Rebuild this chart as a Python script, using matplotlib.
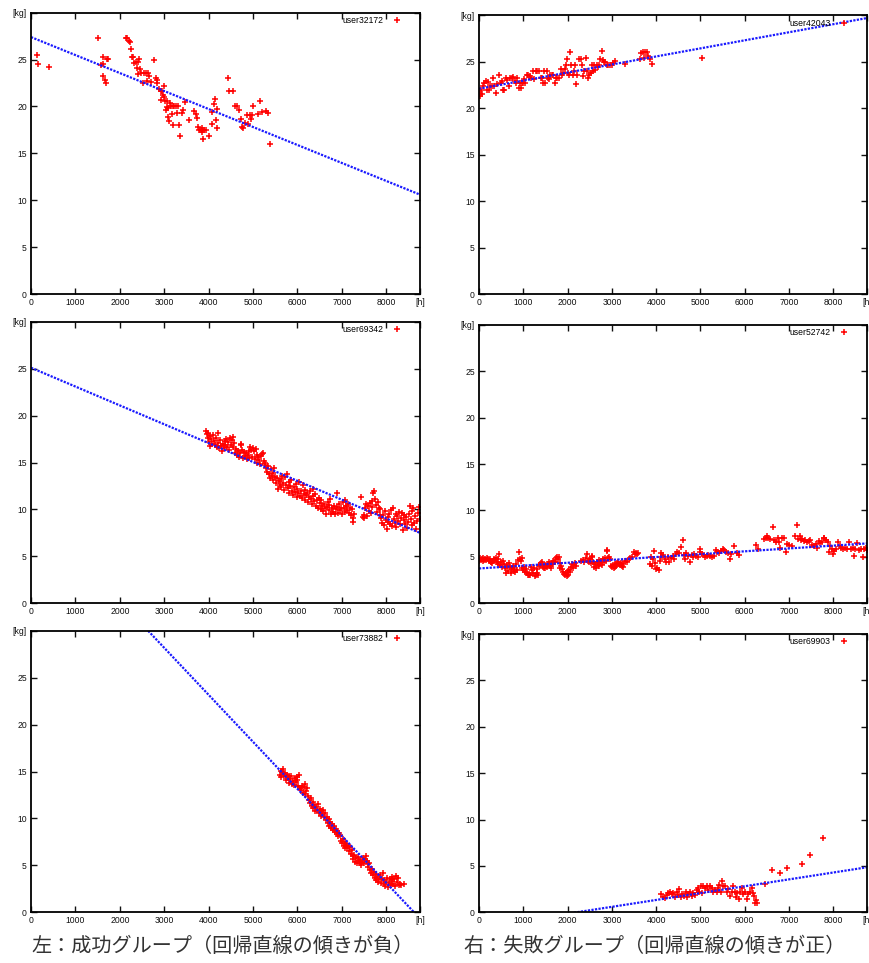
import matplotlib
matplotlib.use('Agg')
import matplotlib.pyplot as plt
import numpy as np

users = ['user32172', 'user42043', 'user69342', 'user52742', 'user73882', 'user69903']
reg_intercept = [27.4, 22.1, 25.1, 3.75, 43.2, -1.63]
reg_slope = [-0.001918, 0.000868, -0.002009, 0.000308, -0.005008, 0.000740]

x_tick_vals = [0, 1000, 2000, 3000, 4000, 5000, 6000, 7000, 8000, 8760]
x_tick_labels = ['0', '1000', '2000', '3000', '4000', '5000', '6000', '7000', '8000', '[h]']
y_tick_vals = [0, 5, 10, 15, 20, 25, 30]
y_tick_labels = ['0', '5', '10', '15', '20', '25', '[kg]']

captions = ['左：成功グループ（回帰直線の傾きが負）', '右：失敗グループ（回帰直線の傾きが正）']

# user32172
p1 = [(128,25.5),(165,24.5),(413,24.2),(1500,27.3),(1568,24.4),(1613,25.3),(1628,24.5),(1628,23.2),
      (1658,22.8),(1680,22.5),(1703,25.1),(1725,25.1),(2138,27.3),(2168,27.3),(2205,27.0),(2228,26.9),
      (2250,26.1),(2273,25.3),(2303,25.3),(2325,24.6),(2355,24.7),(2378,24.1),(2400,24.7),(2415,23.5),
      (2438,25.1),(2453,24.0),(2483,23.6),(2513,22.5),(2543,23.6),(2580,23.6),(2603,22.7),(2640,23.6),
      (2655,23.2),(2693,22.6),(2775,25.0),(2813,23.0),(2828,22.8),(2843,22.5),(2888,21.9),(2925,21.7),
      (2948,21.6),(2933,20.7),(2963,21.2),(2985,22.2),(2993,21.0),(3015,20.6),(3038,19.6),(3053,20.6),
      (3068,19.9),(3075,18.9),(3090,19.8),(3098,18.4),(3128,20.4),(3143,20.1),(3173,19.2),(3188,18.0),
      (3203,20.1),(3225,20.1),(3255,20.1),(3293,19.3),(3315,20.1),(3338,18.0),(3353,16.8),(3390,19.3),
      (3428,19.6),(3465,20.5),(3563,18.6),(3676,19.5),(3706,19.2),(3743,18.8),(3766,17.8),(3788,17.5),
      (3818,17.5),(3841,17.7),(3856,17.3),(3863,16.5),(3893,17.5),(3938,17.5),(4013,16.8),(4073,18.1),
      (4081,19.4),(4118,20.3),(4141,20.8),(4163,18.6),(4178,19.7),(4186,17.7),(4433,23.0),(4463,21.7),
      (4553,21.7),(4591,20.0),(4643,20.1),(4681,19.6),(4718,18.7),(4756,17.8),(4778,17.7),(4816,18.2),
      (4853,19.1),(4891,18.1),(4928,19.1),(4943,18.7),(4981,19.1),(5003,20.0),(5116,19.2),(5153,20.6),
      (5191,19.4),(5303,19.5),(5341,19.3),(5386,16.0)]

# user42043
p2 = [(0,21.7),(0,21.5),(23,21.3),(38,22.0),(75,21.5),(98,22.4),(120,22.7),(150,22.9),(173,22.0),
      (196,22.8),(233,22.0),(248,22.4),(286,22.4),(324,23.2),(346,22.4),(384,21.6),(414,22.6),(459,23.6),
      (489,22.7),(527,22.9),(549,22.0),(572,22.0),(609,23.2),(640,23.0),(670,22.4),(700,23.2),(737,23.2),
      (775,23.4),(805,22.9),(835,22.7),(865,23.2),(895,22.2),(926,22.7),(948,22.2),(971,22.7),(1001,22.7),
      (1023,23.1),(1046,22.7),(1076,23.6),(1114,23.6),(1151,23.5),(1181,23.3),(1219,24.0),(1242,23.1),
      (1279,24.0),(1317,24.0),(1355,24.0),(1392,23.2),(1415,23.2),(1445,22.7),(1475,24.0),(1498,22.7),
      (1528,24.0),(1550,23.2),(1573,23.1),(1603,23.6),(1640,23.6),(1678,23.6),(1708,22.7),(1738,23.2),
      (1768,23.2),(1798,23.2),(1844,24.2),(1874,23.6),(1904,23.8),(1934,24.2),(1964,24.6),(1987,25.3),
      (2017,23.8),(2039,23.6),(2062,26.0),(2085,24.6),(2115,23.6),(2145,24.0),(2175,24.6),(2198,22.6),
      (2220,23.6),(2265,25.3),(2295,25.3),(2318,24.6),(2355,23.5),(2378,24.0),(2408,25.4),(2431,24.0),
      (2461,23.3),(2491,23.6),(2521,23.8),(2543,24.6),(2566,24.0),(2596,24.6),(2626,24.1),(2656,24.6),
      (2686,24.4),(2716,24.6),(2739,25.3),(2769,26.2),(2792,25.2),(2822,25.0),(2852,25.0),(2882,24.6),
      (2920,24.6),(2957,24.6),(2995,24.6),(3032,24.9),(3070,25.1),(3296,24.8),(3634,25.3),(3664,25.9),
      (3694,26.0),(3724,25.4),(3754,26.0),(3784,26.0),(3822,25.6),(3860,25.3),(3905,24.8),(5041,25.4)]

# user69342
p3 = [(3950,18.4),(3960,18.0),(3975,17.6),(3990,18.1),(4000,17.2),(4020,17.8),(4040,16.8),(4060,17.5),
      (4080,17.0),(4100,17.9),(4120,17.3),(4150,16.9),(4170,17.6),(4190,16.6),(4200,18.1),(4220,17.1),
      (4240,16.5),(4260,17.4),(4280,16.8),(4300,16.2),(4320,17.0),(4340,16.5),(4360,17.3),(4380,16.9),
      (4400,17.5),(4420,16.7),(4440,17.2),(4460,16.3),(4480,17.6),(4500,16.9),(4520,17.4),(4540,17.7),
      (4560,16.6),(4580,17.1),(4600,16.0),(4620,16.4),(4640,15.8),(4660,16.2),(4680,15.6),(4700,16.0),
      (4720,16.9),(4740,17.0),(4760,16.3),(4780,15.5),(4800,16.1),(4820,15.7),(4840,16.0),(4860,15.4),
      (4880,15.8),(4900,16.2),(4920,15.5),(4940,16.6),(4960,16.3),(4980,15.6),(5000,16.5),(5020,16.2),
      (5040,15.4),(5060,16.4),(5080,15.8),(5100,15.0),(5120,15.6),(5140,15.3),(5160,14.8),(5180,15.7),
      (5200,15.9),(5220,16.0),(5240,15.2),(5260,14.7),(5280,14.9),(5300,14.4),(5320,14.0),(5340,14.6),
      (5360,13.8),(5380,13.4),(5400,14.3),(5420,13.6),(5440,13.9),(5460,13.1),(5480,14.4),(5500,13.5),
      (5520,12.8),(5540,13.3),(5560,12.2),(5580,13.0),(5600,12.6),(5620,13.2),(5640,12.4),(5660,13.6),
      (5680,12.8),(5700,12.1),(5720,13.5),(5740,12.6),(5760,13.8),(5780,12.3),(5800,12.9),(5820,11.8),
      (5840,12.5),(5860,13.1),(5880,12.0),(5900,11.5),(5920,12.4),(5940,11.9),(5960,12.7),(5980,11.3),
      (6000,12.2),(6020,11.7),(6040,12.9),(6060,11.4),(6080,12.0),(6100,11.2),(6120,12.6),(6140,11.6),
      (6160,11.0),(6180,12.1),(6200,11.5),(6220,11.8),(6240,10.8),(6260,11.3),(6280,12.0),(6300,11.1),
      (6320,10.6),(6340,11.4),(6360,12.2),(6380,10.9),(6400,11.6),(6420,10.4),(6440,11.0),(6460,10.2),
      (6480,11.2),(6500,10.7),(6520,10.0),(6540,11.0),(6560,10.4),(6580,9.8),(6600,10.6),(6620,10.1),
      (6640,9.5),(6660,10.3),(6680,10.8),(6700,9.9),(6720,10.5),(6740,11.1),(6760,9.5),(6780,10.2),
      (6800,9.7),(6820,10.4),(6840,9.5),(6860,10.0),(6880,11.7),(6900,10.3),(6920,9.6),(6940,10.6),
      (6960,9.9),(6980,10.2),(7000,9.5),(7020,10.8),(7040,10.1),(7060,11.0),(7080,9.7),(7100,10.4),
      (7120,9.9),(7140,10.6),(7160,9.6),(7180,10.2),(7200,9.4),(7220,10.0),(7240,9.1),(7260,8.7),
      (7280,9.5),(7440,11.3),(7470,9.2),(7490,9.4),(7510,9.1),(7530,10.2),(7550,10.6),(7570,9.3),
      (7590,10.4),(7610,9.8),(7630,10.7),(7650,9.6),(7670,10.9),(7690,10.3),(7710,11.8),(7730,12.0),
      (7750,11.1),(7770,10.5),(7790,9.7),(7810,10.8),(7830,10.2),(7850,9.4),(7870,10.0),(7890,9.1),
      (7910,8.6),(7930,9.4),(7950,8.3),(7970,9.8),(7990,8.9),(8010,7.9),(8030,9.2),(8050,8.7),
      (8070,9.5),(8090,8.4),(8110,9.9),(8130,8.2),(8150,10.1),(8170,9.0),(8190,8.6),(8210,9.5),
      (8230,8.1),(8250,9.3),(8270,8.8),(8290,9.7),(8310,8.4),(8330,9.1),(8350,9.6),(8370,7.8),
      (8390,8.9),(8410,9.4),(8430,8.5),(8450,9.2),(8470,8.0),(8490,8.7),(8510,9.5),(8530,10.4),
      (8550,9.0),(8570,8.3),(8590,9.8),(8610,10.1),(8630,8.6),(8650,9.3),(8670,7.9),(8690,8.8),
      (8710,9.6),(8730,10.3),(8750,9.0)]

# user52742
p4 = [(0,4.6),(20,4.9),(40,4.7),(60,4.8),(80,4.6),(100,4.9),(120,4.7),(140,4.8),(160,4.7),(180,4.9),
      (200,4.8),(220,4.6),(240,4.8),(260,4.5),(280,4.4),(300,4.3),(320,4.6),(340,4.8),(360,4.7),(380,4.9),
      (400,4.5),(420,4.2),(440,4.8),(460,5.3),(480,4.1),(500,4.4),(520,3.9),(540,4.6),(560,4.2),(580,3.8),
      (600,3.3),(620,3.9),(640,4.1),(660,3.5),(680,4.3),(700,3.9),(720,3.3),(740,3.7),(760,4.0),(780,3.5),
      (800,3.8),(820,3.4),(840,4.2),(860,3.6),(880,4.7),(900,5.5),(920,4.8),(940,4.6),(960,4.9),(980,3.8),
      (1000,3.6),(1020,3.9),(1040,3.4),(1060,3.7),(1080,3.3),(1100,3.1),(1120,3.0),(1140,3.2),(1160,3.0),
      (1180,3.9),(1200,3.6),(1220,3.3),(1240,3.8),(1260,2.9),(1280,3.0),(1300,3.7),(1320,3.3),(1340,3.1),
      (1360,4.1),(1380,4.0),(1400,4.3),(1420,4.5),(1440,3.9),(1460,3.8),(1480,4.1),(1500,3.8),(1520,4.0),
      (1540,3.9),(1560,4.2),(1580,4.4),(1600,4.0),(1620,3.8),(1640,4.3),(1660,4.6),(1680,4.2),(1700,4.4),
      (1720,4.5),(1740,4.9),(1760,5.0),(1780,4.8),(1800,5.0),(1820,4.3),(1840,3.8),(1860,4.0),(1880,3.7),
      (1900,3.4),(1920,3.2),(1940,3.0),(1960,3.3),(1980,2.9),(2000,3.5),(2020,3.1),(2040,3.6),(2060,3.4),
      (2080,3.9),(2100,4.2),(2120,3.8),(2140,4.1),(2160,4.3),(2180,4.0),(2300,4.6),(2340,4.7),(2380,4.5),
      (2420,4.9),(2440,5.3),(2460,4.6),(2480,4.4),(2500,4.8),(2520,4.3),(2540,5.0),(2560,5.1),(2580,4.5),
      (2600,3.9),(2620,4.2),(2640,3.8),(2660,4.5),(2680,4.1),(2700,4.7),(2720,4.0),(2740,4.3),(2760,4.6),
      (2780,4.1),(2800,4.8),(2820,4.4),(2840,4.9),(2860,4.6),(2880,5.7),(2900,5.6),(2920,4.9),(2940,5.0),
      (2960,4.8),(2980,4.0),(3000,3.9),(3020,4.1),(3040,3.8),(3060,4.2),(3080,3.9),(3100,4.0),(3120,4.3),
      (3140,4.4),(3160,4.2),(3180,4.1),(3200,4.3),(3220,4.0),(3240,3.9),(3260,4.2),(3300,4.6),(3340,4.4),
      (3380,4.8),(3420,4.9),(3460,5.0),(3500,5.5),(3520,5.3),(3540,5.4),(3560,5.3),(3600,5.4),(3850,4.2),
      (3880,5.0),(3900,4.0),(3920,4.8),(3950,5.6),(3980,4.3),(4000,3.7),(4020,3.8),(4060,3.6),(4080,4.6),
      (4100,5.4),(4120,5.0),(4160,5.2),(4200,4.8),(4230,4.4),(4260,5.0),(4300,4.5),(4330,4.9),(4370,5.1),
      (4400,4.8),(4440,5.3),(4480,5.5),(4520,5.4),(4550,6.1),(4600,6.8),(4620,5.2),(4650,4.8),(4680,5.4),
      (4720,5.1),(4760,4.4),(4800,5.2),(4830,5.0),(4860,5.3),(4900,5.1),(4940,5.0),(4980,5.9),(5000,5.5),
      (5030,5.3),(5070,5.2),(5100,5.0),(5140,5.1),(5180,5.2),(5220,5.1),(5260,5.0),(5300,5.1),(5340,5.7),
      (5380,5.5),(5420,5.4),(5460,5.6),(5500,5.9),(5540,5.7),(5580,5.5),(5620,5.4),(5660,4.8),(5700,5.3),
      (5760,6.2),(5820,5.4),(5860,5.2),(6260,6.3),(6300,5.8),(6440,6.9),(6480,7.0),(6500,7.3),(6520,7.0),
      (6560,6.9),(6640,8.2),(6660,6.8),(6700,6.6),(6740,7.0),(6780,6.6),(6800,6.0),(6840,7.0),(6880,7.0),
      (6920,5.5),(6960,6.4),(7000,6.3),(7060,6.2),(7140,7.2),(7170,8.4),(7200,6.9),(7240,7.3),(7270,6.8),
      (7300,6.9),(7330,6.7),(7360,6.8),(7400,6.6),(7440,6.7),(7480,6.8),(7520,6.3),(7560,6.2),(7600,6.4),
      (7640,6.0),(7680,6.7),(7700,6.5),(7740,6.6),(7780,7.0),(7800,7.0),(7840,6.8),(7880,6.6),(7900,5.5),
      (7930,6.2),(7960,5.8),(8000,5.3),(8020,5.6),(8060,5.9),(8100,6.6),(8140,6.2),(8180,6.0),(8220,5.9),
      (8260,6.0),(8300,5.9),(8350,6.6),(8400,5.8),(8440,6.0),(8460,5.1),(8500,5.8),(8540,6.5),(8580,5.7),
      (8620,5.9),(8660,5.0),(8700,5.8),(8740,6.0),(8760,5.7)]

# user73882
p5 = [(5600,14.6),(5620,15.1),(5640,14.4),(5660,14.9),(5680,15.3),(5700,14.5),(5720,14.8),(5740,14.1),
      (5760,14.6),(5780,14.3),(5800,14.5),(5820,13.8),(5840,14.2),(5860,14.5),(5880,13.7),(5900,14.0),
      (5920,13.6),(5940,14.3),(5960,13.9),(5980,14.1),(6000,14.4),(6020,13.5),(6040,14.6),(6060,13.2),
      (6080,13.0),(6100,13.5),(6120,12.7),(6140,13.3),(6160,12.6),(6180,13.7),(6200,12.9),(6220,13.2),
      (6240,12.4),(6260,12.0),(6280,11.6),(6300,12.2),(6320,11.3),(6340,11.7),(6360,11.1),(6380,11.4),
      (6400,10.8),(6420,11.2),(6440,10.9),(6460,11.5),(6480,10.6),(6500,11.0),(6520,10.3),(6540,10.8),
      (6560,10.5),(6580,10.9),(6600,10.1),(6620,10.6),(6640,9.8),(6660,10.2),(6680,9.5),(6700,9.9),
      (6720,9.2),(6740,9.6),(6760,9.0),(6780,9.4),(6800,8.8),(6820,9.2),(6840,8.6),(6860,8.9),(6880,8.3),
      (6900,8.7),(6920,8.1),(6940,8.5),(6960,8.2),(6980,7.6),(7000,7.4),(7020,7.8),(7040,7.1),(7060,7.5),
      (7080,6.9),(7100,7.3),(7120,6.8),(7140,7.1),(7160,6.5),(7180,7.0),(7200,6.2),(7220,6.6),(7240,6.0),
      (7260,5.7),(7280,6.1),(7300,5.4),(7320,5.8),(7340,5.3),(7360,5.9),(7380,5.5),(7400,5.2),(7420,5.6),
      (7440,5.0),(7460,5.4),(7480,5.8),(7500,5.3),(7520,5.7),(7540,6.0),(7560,5.5),(7580,5.1),(7600,4.8),
      (7620,5.2),(7640,4.5),(7660,4.2),(7680,4.6),(7700,4.0),(7720,4.3),(7740,3.7),(7760,4.1),(7780,3.4),
      (7800,3.8),(7820,3.2),(7840,3.6),(7860,4.0),(7880,3.1),(7900,3.5),(7920,4.2),(7940,3.0),(7960,3.4),
      (7980,2.8),(8000,3.2),(8020,3.7),(8040,2.7),(8060,3.1),(8080,3.5),(8100,2.9),(8120,3.3),(8140,3.8),
      (8160,3.0),(8180,3.6),(8200,2.8),(8220,3.9),(8240,3.2),(8260,3.7),(8280,2.9),(8300,3.0),(8340,2.9),
      (8400,3.0)]

# user69903
p6 = [(4100,2.0),(4160,1.7),(4200,1.5),(4236,1.9),(4274,2.1),(4310,2.2),(4350,2.0),(4387,2.05),
      (4425,1.7),(4462,2.2),(4500,1.9),(4522,2.5),(4552,1.7),(4590,2.0),(4628,1.8),(4665,2.2),(4688,1.7),
      (4725,2.0),(4763,2.2),(4801,1.8),(4838,2.1),(4877,1.9),(4914,2.4),(4951,2.6),(4974,2.2),(5004,2.8),
      (5034,2.1),(5064,2.8),(5102,2.6),(5139,2.8),(5177,2.4),(5214,2.8),(5252,2.6),(5290,2.2),(5327,2.4),
      (5365,2.2),(5402,2.6),(5425,2.9),(5455,2.2),(5477,3.4),(5515,2.8),(5553,2.8),(5590,2.2),(5628,2.5),
      (5666,1.8),(5703,2.2),(5741,2.8),(5779,2.2),(5801,1.7),(5832,2.05),(5862,1.4),(5892,2.2),(5930,2.6),
      (5967,2.0),(6005,2.2),(6042,1.4),(6080,2.0),(6117,2.2),(6155,2.6),(6178,2.1),(6208,1.8),(6223,1.0),
      (6253,1.3),(6283,1.0),(6456,3.0),(6621,4.6),(6795,4.2),(6960,4.8),(7284,5.2),(7472,6.2),(7773,8.0)]

data = [p1, p2, p3, p4, p5, p6]

W, H = 869, 963
fig = plt.figure(figsize=(W / 100, H / 100), dpi=100)

# axes rectangles in pixels: (left, top, right, bottom)
rects = [(31, 12.7, 420, 294), (479, 15.3, 867, 294),
         (31, 321.7, 420, 603.3), (479, 324.7, 867, 603.3),
         (31, 630.7, 420, 912.3), (479, 634, 867, 912.3)]

for i in range(6):
    l, t, r, b = rects[i]
    ax = fig.add_axes([l / W, 1 - b / H, (r - l) / W, (b - t) / H])
    pts = np.array(data[i], dtype=float)
    ax.plot(pts[:, 0], pts[:, 1], linestyle='none', marker='+', color='#ff0000',
            markersize=4.8, markeredgewidth=1.1, label=users[i])
    xs = np.array([0, 8760], dtype=float)
    ax.plot(xs, reg_intercept[i] + reg_slope[i] * xs, color='#1a1aff',
            linewidth=1.6, linestyle=(0, (1.0, 0.6)))
    ax.set_xlim(0, 8760)
    ax.set_ylim(0, 30)
    ax.set_xticks(x_tick_vals)
    ax.set_xticklabels(x_tick_labels)
    ax.set_yticks(y_tick_vals)
    ax.set_yticklabels(y_tick_labels)
    ax.tick_params(direction='in', length=4, width=1.0, top=True, right=True,
                   labelsize=6.2, pad=3, colors='#111111')
    for lab in ax.get_xticklabels() + ax.get_yticklabels():
        lab.set_family(['Liberation Sans', 'DejaVu Sans'])
    for sp in ax.spines.values():
        sp.set_linewidth(1.3)
    w_px = r - l
    ax.legend(loc='upper right', bbox_to_anchor=(1 - 14 / w_px, 1.0),
              frameon=False, markerfirst=False,
              prop={'family': 'Liberation Sans', 'size': 6.2},
              handlelength=1.2, handletextpad=1.0, borderaxespad=0.0,
              borderpad=0.4)

fig.text(223 / W, 1 - 946 / H, captions[0], ha='center', va='center',
         fontsize=14.5, family=['Noto Sans CJK JP', 'DejaVu Sans'], color='#333333')
fig.text(655 / W, 1 - 946 / H, captions[1], ha='center', va='center',
         fontsize=14.5, family=['Noto Sans CJK JP', 'DejaVu Sans'], color='#333333')

fig.savefig('out.png', dpi=100)
